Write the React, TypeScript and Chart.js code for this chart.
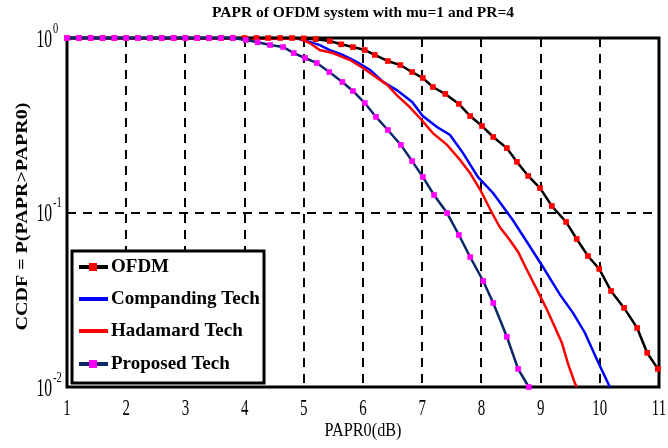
import React, { useEffect, useRef } from "react";
import { Chart, registerables } from "chart.js";

Chart.register(...registerables);

const chartTitle = "PAPR of OFDM system with mu=1 and PR=4";
const xAxisLabel = "PAPR0(dB)";
const yAxisLabel = "CCDF = P(PAPR>PAPR0)";
const xTickLabels = ["1", "2", "3", "4", "5", "6", "7", "8", "9", "10", "11"];
const yTickValues = [1, 0.1, 0.01];
const yTickExponents = ["0", "-1", "-2"];
const seriesNames = ["OFDM", "Companding Tech", "Hadamard Tech", "Proposed Tech"];

const ofdmX = [1.0, 1.2, 1.4, 1.6, 1.8, 2.0, 2.2, 2.4, 2.6, 2.8, 3.0, 3.2, 3.4, 3.6, 3.8, 4.0, 4.2, 4.4, 4.6, 4.8, 5.0, 5.2, 5.44, 5.63, 5.83, 6.03, 6.2, 6.42, 6.63, 6.83, 7.01, 7.18, 7.39, 7.62, 7.81, 8.01, 8.2, 8.43, 8.6, 8.79, 8.99, 9.19, 9.43, 9.61, 9.8, 9.99, 10.19, 10.41, 10.63, 10.8, 10.98];
const ofdmY = [1, 1, 1, 1, 1, 1, 1, 1, 1, 1, 1, 1, 1, 1, 1, 1, 1, 1, 1, 1, 0.995, 0.985, 0.96, 0.92, 0.887, 0.853, 0.8, 0.738, 0.7, 0.638, 0.59, 0.524, 0.478, 0.419, 0.357, 0.313, 0.271, 0.234, 0.195, 0.162, 0.138, 0.109, 0.0883, 0.0705, 0.0563, 0.0475, 0.0355, 0.0284, 0.0218, 0.0157, 0.0127];

const compX = [1.0, 4.9, 5.1, 5.27, 5.44, 5.66, 5.9, 6.12, 6.34, 6.57, 6.83, 7.01, 7.25, 7.47, 7.69, 7.94, 8.2, 8.53, 8.77, 9.04, 9.33, 9.55, 9.75, 9.97, 10.17];
const compY = [1, 0.99, 0.95, 0.91, 0.853, 0.8, 0.728, 0.656, 0.56, 0.503, 0.43, 0.357, 0.309, 0.278, 0.219, 0.16, 0.129, 0.0906, 0.0678, 0.0487, 0.0337, 0.0265, 0.0204, 0.0139, 0.01];

const hadX = [1.0, 4.94, 5.1, 5.27, 5.49, 5.78, 6.0, 6.24, 6.41, 6.57, 6.79, 6.96, 7.18, 7.42, 7.64, 7.81, 7.98, 8.18, 8.31, 8.48, 8.62, 8.77, 8.94, 9.11, 9.24, 9.36, 9.46, 9.58, 9.61];
const hadY = [1, 0.99, 0.936, 0.853, 0.82, 0.748, 0.673, 0.59, 0.538, 0.471, 0.402, 0.348, 0.285, 0.244, 0.2, 0.168, 0.135, 0.0993, 0.0826, 0.0695, 0.0594, 0.0468, 0.036, 0.0276, 0.0221, 0.0179, 0.0137, 0.0105, 0.01];

const propX = [1.0, 1.2, 1.4, 1.6, 1.8, 2.0, 2.2, 2.4, 2.6, 2.8, 3.0, 3.2, 3.4, 3.6, 3.8, 4.02, 4.22, 4.43, 4.65, 4.83, 5.02, 5.22, 5.43, 5.65, 5.83, 6.03, 6.22, 6.42, 6.64, 6.83, 7.01, 7.2, 7.42, 7.62, 7.81, 8.03, 8.2, 8.43, 8.62, 8.8];
const propY = [1, 1, 1, 1, 1, 1, 1, 1, 1, 1, 1, 1, 1, 1, 1, 0.974, 0.945, 0.912, 0.888, 0.82, 0.768, 0.719, 0.638, 0.56, 0.497, 0.424, 0.353, 0.297, 0.244, 0.197, 0.16, 0.126, 0.0993, 0.0743, 0.0556, 0.0405, 0.0303, 0.0194, 0.0127, 0.01];

const SERIF = "'Liberation Serif', 'Times New Roman', serif";

const toPoints = (xs: number[], ys: number[]) => xs.map((x, i) => ({ x, y: ys[i] }));

function drawScaled(ctx: CanvasRenderingContext2D, text: string, x: number, y: number, font: string, sx: number, align: CanvasTextAlign, rot = 0) {
  ctx.save();
  ctx.font = font;
  ctx.fillStyle = "#000";
  ctx.textBaseline = "middle";
  ctx.textAlign = align;
  ctx.translate(x, y);
  if (rot) ctx.rotate(rot);
  ctx.scale(sx, 1);
  ctx.fillText(text, 0, 0);
  ctx.restore();
}

function fitScale(ctx: CanvasRenderingContext2D, text: string, font: string, target: number) {
  ctx.save();
  ctx.font = font;
  const w = ctx.measureText(text).width;
  ctx.restore();
  return target / w;
}

const framePlugin = {
  id: "frame",
  beforeDatasetsDraw(chart: any) {
    const { ctx, chartArea: a } = chart;
    ctx.save();
    ctx.strokeStyle = "#000";
    ctx.lineWidth = 3;
    ctx.strokeRect(a.left, a.top, a.right - a.left, a.bottom - a.top);
    ctx.restore();
  },
};

const textPlugin = {
  id: "texts",
  afterDraw(chart: any) {
    const { ctx, chartArea: a } = chart;
    const xs = chart.scales.x;
    const ys = chart.scales.y;
    const tFont = `bold 15px ${SERIF}`;
    drawScaled(ctx, chartTitle, (a.left + a.right) / 2, 13, tFont, fitScale(ctx, chartTitle, tFont, 302), "center");
    const xlFont = `19px ${SERIF}`;
    drawScaled(ctx, xAxisLabel, (a.left + a.right) / 2, 431, xlFont, fitScale(ctx, xAxisLabel, xlFont, 77), "center");
    const ylFont = `bold 16px ${SERIF}`;
    drawScaled(ctx, yAxisLabel, 23, (a.top + a.bottom) / 2 + 4, ylFont, fitScale(ctx, yAxisLabel, ylFont, 228), "center", -Math.PI / 2);
    xTickLabels.forEach((lab, i) => {
      const px = xs.getPixelForValue(i + 1);
      drawScaled(ctx, lab, px, 409, `24px ${SERIF}`, 0.62, "center");
    });
    yTickValues.forEach((v, i) => {
      const py = ys.getPixelForValue(v);
      drawScaled(ctx, "10", 52, py + 2, `26px ${SERIF}`, 0.6, "right");
      drawScaled(ctx, yTickExponents[i], 53, py - 9, `15px ${SERIF}`, 0.7, "left");
    });
  },
};

const legendPlugin = {
  id: "customLegend",
  afterDraw(chart: any) {
    const { ctx } = chart;
    const left = 72, top = 251, right = 264, bottom = 383;
    ctx.save();
    ctx.fillStyle = "#fff";
    ctx.fillRect(left, top, right - left, bottom - top);
    ctx.strokeStyle = "#000";
    ctx.lineWidth = 3;
    ctx.strokeRect(left, top, right - left, bottom - top);
    const rows = [267, 299, 331, 364];
    chart.data.datasets.forEach((ds: any, i: number) => {
      const y = rows[i];
      ctx.strokeStyle = ds.borderColor;
      ctx.lineWidth = 4;
      ctx.beginPath();
      ctx.moveTo(79, y);
      ctx.lineTo(108, y);
      ctx.stroke();
      if (ds.pointRadius > 0) {
        ctx.fillStyle = ds.pointBackgroundColor;
        ctx.fillRect(89, y - 4, 8, 8);
      }
      drawScaled(ctx, ds.label, 111, y, `bold 19px ${SERIF}`, 1, "left");
    });
    ctx.restore();
  },
};

export default function App() {
  const ref = useRef<HTMLCanvasElement>(null);
  useEffect(() => {
    document.body.style.margin = "0";
    const canvas = ref.current!;
    const chart = new Chart(canvas, {
      type: "line",
      data: {
        datasets: [
          {
            label: seriesNames[0],
            data: toPoints(ofdmX, ofdmY),
            borderColor: "#000000",
            borderWidth: 2.5,
            pointStyle: "rect",
            pointRadius: 4,
            pointBorderWidth: 0,
            pointBackgroundColor: "#ff0000",
            pointBorderColor: "#ff0000",
            clip: false,
            order: 1,
          },
          {
            label: seriesNames[1],
            data: toPoints(compX, compY),
            borderColor: "#0000ff",
            borderWidth: 2.5,
            pointRadius: 0,
            clip: false,
            order: 3,
          },
          {
            label: seriesNames[2],
            data: toPoints(hadX, hadY),
            borderColor: "#ff0000",
            borderWidth: 2.5,
            pointRadius: 0,
            clip: false,
            order: 2,
          },
          {
            label: seriesNames[3],
            data: toPoints(propX, propY),
            borderColor: "#0b2766",
            borderWidth: 2.5,
            pointStyle: "rect",
            pointRadius: 4,
            pointBorderWidth: 0,
            pointBackgroundColor: "#ff00ff",
            pointBorderColor: "#ff00ff",
            clip: false,
            order: 0,
          },
        ],
      },
      options: {
        responsive: false,
        animation: false,
        layout: { padding: { top: 38, right: 9, left: 0, bottom: 0 } },
        plugins: {
          legend: { display: false },
          title: { display: false },
          tooltip: { enabled: false },
        },
        scales: {
          x: {
            type: "linear",
            min: 1,
            max: 11,
            ticks: { stepSize: 1, display: false },
            grid: { color: "#000", lineWidth: 2, drawTicks: false },
            border: { display: false, dash: [9, 7] },
            afterFit: (s: any) => {
              s.height = 61;
            },
          },
          y: {
            type: "logarithmic",
            min: 0.01,
            max: 1,
            afterBuildTicks: (s: any) => {
              s.ticks = yTickValues.map((v) => ({ value: v }));
            },
            ticks: { display: false },
            grid: { color: "#000", lineWidth: 2, drawTicks: false },
            border: { display: false, dash: [9, 7] },
            afterFit: (s: any) => {
              s.width = 67;
            },
          },
        },
      },
      plugins: [framePlugin, textPlugin, legendPlugin],
    } as any);
    return () => chart.destroy();
  }, []);
  return (
    <div style={{ position: "absolute", left: 0, top: 0, width: 668, height: 448 }}>
      <canvas ref={ref} width={668} height={448} />
    </div>
  );
}
